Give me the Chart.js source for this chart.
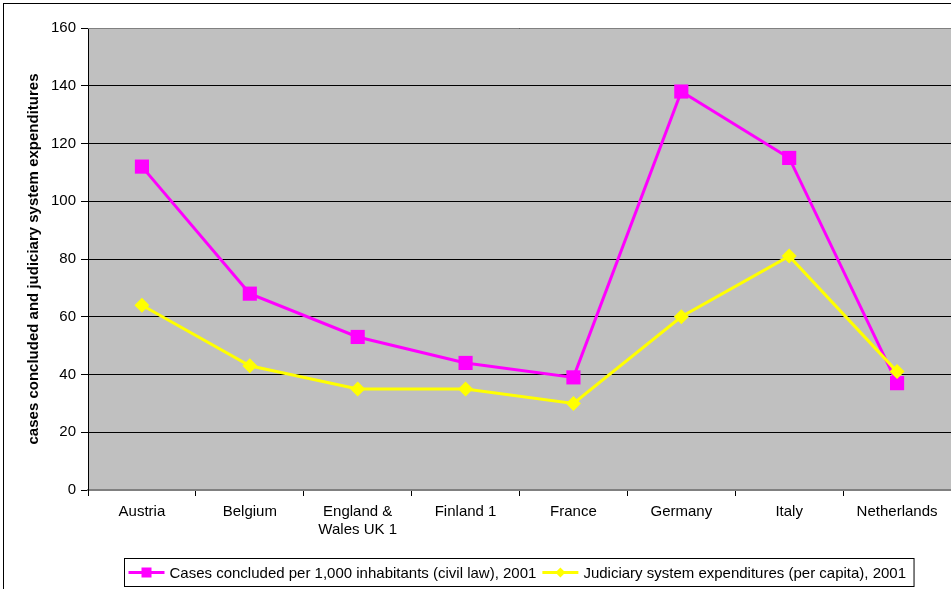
<!DOCTYPE html>
<html>
<head>
<meta charset="utf-8">
<title>Civil law cases and judiciary expenditures, 2001</title>
<script src="https://cdn.jsdelivr.net/npm/chart.js@4"></script>
<style>
    html, body { margin: 0; padding: 0; background: #fff; overflow: hidden; }
    canvas { display: block; }
</style>
</head>
<body>
<canvas id="chart" width="961" height="589"></canvas>
<script>
// Countries on the x axis (England & Wales wraps onto two lines)
const countries = ['Austria', 'Belgium', ['England &', 'Wales UK 1'], 'Finland 1', 'France', 'Germany', 'Italy', 'Netherlands'];

// Cases concluded per 1,000 inhabitants (civil law), 2001
const casesConcluded = [112, 68, 53, 44, 39, 138, 115, 37];

// Judiciary system expenditures (per capita), 2001
const judiciaryExpenditures = [64, 43, 35, 35, 30, 60, 81, 41];

const yMin = 0;
const yMax = 160;
const yStep = 20;

const FONT = "'Liberation Sans', Arial, sans-serif";
const MAGENTA = '#ff00ff';
const YELLOW = '#ffff00';

// Gray plot background, outer frame and the boxed legend under the axis
const chartDecor = {
    id: 'chartDecor',
    beforeDraw(chart) {
        const { ctx, chartArea: a } = chart;
        ctx.save();
        ctx.fillStyle = '#c0c0c0';
        ctx.fillRect(a.left, a.top, a.right - a.left, a.bottom - a.top);
        ctx.restore();
    },
    beforeDatasetsDraw(chart) {
        const { ctx, chartArea: a } = chart;
        ctx.save();
        ctx.strokeStyle = '#808080';
        ctx.lineWidth = 1;
        ctx.beginPath();
        ctx.moveTo(a.left, a.top + 0.5);
        ctx.lineTo(a.right, a.top + 0.5);
        ctx.stroke();
        ctx.restore();
    },
    afterDraw(chart) {
        const { ctx } = chart;
        ctx.save();

        // outer frame
        ctx.strokeStyle = '#000';
        ctx.lineWidth = 1;
        ctx.strokeRect(3.5, 3.5, chart.width + 20, chart.height + 20);

        // legend
        const items = chart.data.datasets.map(ds => ({
            text: ds.label,
            color: ds.borderColor,
            style: ds.pointStyle
        }));
        ctx.font = '15px ' + FONT;
        const sampleW = 36;
        const gap = 5;
        const itemGap = 6;
        const padL = 4;
        const padR = 8;
        let total = padL + padR;
        items.forEach((it, i) => {
            it.w = ctx.measureText(it.text).width;
            total += sampleW + gap + it.w + (i < items.length - 1 ? itemGap : 0);
        });
        const boxH = 28;
        const cx = 519;
        const boxX = Math.round(cx - total / 2) + 0.5;
        const boxY = 558.5;

        ctx.fillStyle = '#fff';
        ctx.fillRect(boxX, boxY, total, boxH);
        ctx.strokeStyle = '#000';
        ctx.strokeRect(boxX, boxY, total, boxH);

        let x = boxX + padL;
        const y = boxY + boxH / 2;
        items.forEach(it => {
            ctx.strokeStyle = it.color;
            ctx.lineWidth = 3;
            ctx.beginPath();
            ctx.moveTo(x, y);
            ctx.lineTo(x + sampleW, y);
            ctx.stroke();
            ctx.fillStyle = it.color;
            const mx = x + sampleW / 2;
            if (it.style === 'rect') {
                ctx.fillRect(mx - 5, y - 5, 10, 10);
            } else {
                ctx.beginPath();
                ctx.moveTo(mx, y - 5);
                ctx.lineTo(mx + 5, y);
                ctx.lineTo(mx, y + 5);
                ctx.lineTo(mx - 5, y);
                ctx.closePath();
                ctx.fill();
            }
            x += sampleW + gap;
            ctx.fillStyle = '#000';
            ctx.textBaseline = 'middle';
            ctx.textAlign = 'left';
            ctx.fillText(it.text, x, y + 1);
            x += it.w + itemGap;
        });
        ctx.restore();
    }
};

new Chart(document.getElementById('chart'), {
    type: 'line',
    data: {
        labels: countries,
        datasets: [
            {
                label: 'Cases concluded per 1,000 inhabitants (civil law), 2001',
                data: casesConcluded,
                borderColor: MAGENTA,
                backgroundColor: MAGENTA,
                borderWidth: 3,
                pointStyle: 'rect',
                pointRadius: 10,
                pointBorderWidth: 0,
                tension: 0,
                order: 1
            },
            {
                label: 'Judiciary system expenditures (per capita), 2001',
                data: judiciaryExpenditures,
                borderColor: YELLOW,
                backgroundColor: YELLOW,
                borderWidth: 3,
                pointStyle: 'rectRot',
                pointRadius: 7.5,
                pointBorderWidth: 0,
                tension: 0,
                order: 0
            }
        ]
    },
    options: {
        responsive: false,
        animation: false,
        layout: { padding: { top: 28, left: 0, right: 0, bottom: 0 } },
        plugins: {
            legend: { display: false },
            tooltip: { enabled: false }
        },
        scales: {
            x: {
                offset: true,
                grid: {
                    offset: true,
                    drawOnChartArea: false,
                    drawTicks: true,
                    tickLength: 6,
                    tickColor: '#000'
                },
                border: { color: '#808080', width: 2 },
                ticks: {
                    color: '#000',
                    font: { family: FONT, size: 15 },
                    padding: 7,
                    maxRotation: 0,
                    autoSkip: false
                },
                afterFit(scale) { scale.height = 99; }
            },
            y: {
                min: yMin,
                max: yMax,
                grid: {
                    color: '#000',
                    lineWidth: 1,
                    tickLength: 7,
                    tickColor: '#000'
                },
                border: { color: '#000', width: 1 },
                ticks: {
                    stepSize: yStep,
                    color: '#000',
                    font: { family: FONT, size: 15 },
                    padding: 5
                },
                title: {
                    display: true,
                    text: 'cases concluded and judiciary system expenditures',
                    color: '#000',
                    font: { family: FONT, size: 15, weight: 'bold' },
                    padding: { top: 25, bottom: 0 }
                },
                afterFit(scale) { scale.width = 88; }
            }
        }
    },
    plugins: [chartDecor]
});
</script>
</body>
</html>
